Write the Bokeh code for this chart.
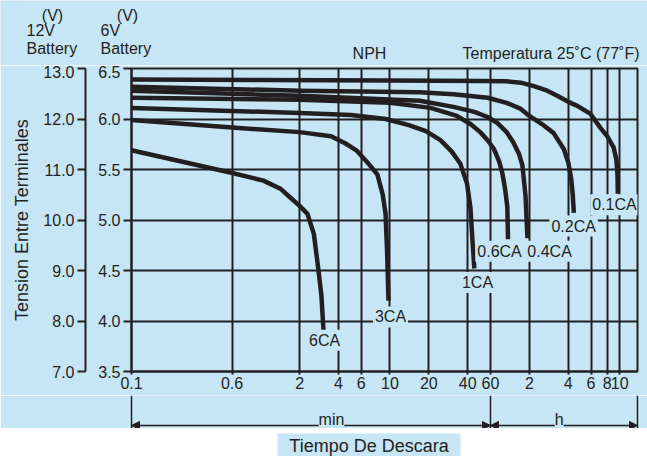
import math
from bokeh.plotting import figure
from bokeh.layouts import column
from bokeh.models import (Range1d, LinearAxis, FixedTicker, NumeralTickFormatter, Label,
                          Arrow, NormalHead, BoxAnnotation)
from bokeh.embed import file_html
from bokeh.resources import INLINE

BG = "#c6e6f6"
INK = "#231f20"
FONT = "Liberation Sans"

# ---------------- data ----------------
X_START, X_END = 0.1, 824          # discharge time axis (minutes), log scale
x_ticks = [0.1, 0.6, 2, 4, 6, 10, 20, 40, 60, 120, 240, 360, 480, 600]
x_tick_labels = ["0.1", "0.6", "2", "4", "6", "10", "20", "40", "60", "2", "4", "6", "8", "10"]
unit_breaks = [X_START, 60, X_END]   # min | h
y6_ticks = [3.5, 4.0, 4.5, 5.0, 5.5, 6.0, 6.5]
y12_ticks = [7, 8, 9, 10, 11, 12, 13]

# terminal voltage (6V battery scale) vs. discharge time (min)
t_01 = [0.1, 1, 10, 50, 80, 103, 130, 165, 197, 240, 282, 357, 427, 480, 538, 565, 577, 580]
v_01 = [6.39, 6.385, 6.38, 6.377, 6.373, 6.36, 6.325, 6.28, 6.23, 6.17, 6.13, 6.05, 5.91, 5.83, 5.72, 5.6, 5.45, 5.26]
t_02 = [0.1, 2, 17, 31, 57, 80, 103, 120, 150, 185, 222, 240, 252, 260, 265]
v_02 = [6.32, 6.28, 6.265, 6.245, 6.21, 6.16, 6.10, 6.03, 5.95, 5.86, 5.70, 5.57, 5.42, 5.25, 5.07]
t_04 = [0.1, 2, 17, 31, 45, 57, 68, 80, 90, 100, 106, 112, 116]
v_04 = [6.28, 6.23, 6.18, 6.12, 6.07, 6.02, 5.96, 5.87, 5.77, 5.65, 5.54, 5.24, 4.82]
t_06 = [0.1, 2, 10, 20.6, 33, 42, 50, 57, 64, 70, 74, 78, 81, 82]
v_06 = [6.21, 6.19, 6.16, 6.11, 6.03, 5.95, 5.87, 5.79, 5.70, 5.58, 5.47, 5.30, 5.13, 4.81]
t_1 = [0.1, 2, 5, 9.3, 14, 19, 24.6, 30, 35, 39.5, 42, 43.5, 45]
v_1 = [6.11, 6.06, 6.04, 6.0, 5.94, 5.88, 5.79, 5.68, 5.56, 5.36, 5.12, 4.80, 4.52]
t_3 = [0.1, 0.6, 2, 3.5, 4.5, 5.5, 6.7, 8.0, 8.8, 9.25, 9.5, 9.75]
v_3 = [5.99, 5.915, 5.87, 5.83, 5.76, 5.69, 5.57, 5.45, 5.25, 5.06, 4.70, 4.20]
t_6 = [0.1, 0.58, 1.05, 1.42, 1.7, 2.0, 2.3, 2.58, 2.8, 2.95, 3.06]
v_6 = [5.69, 5.47, 5.39, 5.31, 5.22, 5.14, 5.06, 4.86, 4.50, 4.25, 3.91]

curve_names = ["0.1CA", "0.2CA", "0.4CA", "0.6CA", "1CA", "3CA", "6CA"]
curve_t = [t_01, t_02, t_04, t_06, t_1, t_3, t_6]
curve_v = [v_01, v_02, v_04, v_06, v_1, v_3, v_6]
label_t = [547, 264, 172, 70.5, 47.6, 10.1, 3.12]
label_v = [5.15, 4.94, 4.69, 4.69, 4.38, 4.04, 3.81]

# ---------------- layout sizes ----------------
W = 647
BL, BR = 131, 10
FRAME_W = W - BL - BR
H_HEAD, H_MAIN, H_UNIT, H_TITLE = 65, 330, 33, 28
BASE_SHIFT = 5   # alphabetic-baseline labels render slightly low


def styled_axis(ax, size="16px"):
    ax.axis_line_color = INK
    ax.axis_line_width = 2
    ax.major_tick_line_color = INK
    ax.major_tick_line_width = 2
    ax.major_tick_in = 0
    ax.minor_tick_line_color = None
    ax.major_label_text_font = FONT
    ax.major_label_text_font_size = size
    ax.major_label_text_color = INK


# ---------------- header ----------------
ph = figure(width=W, height=H_HEAD, x_range=Range1d(0, W), y_range=Range1d(H_HEAD, 0),
            x_axis_location=None, y_axis_location=None, min_border=0, frame_align=False,
            output_backend="svg", toolbar_location=None)
ph.grid.visible = False
ph.outline_line_color = None
ph.background_fill_color = BG
ph.border_fill_color = BG
for txt, x, y, al in [("(V)", 52, 19.5, "center"), ("12V", 26, 35, "left"), ("Battery", 26, 52.5, "left"),
                      ("(V)", 127, 19.5, "center"), ("6V", 100, 35, "left"), ("Battery", 100, 52.5, "left"),
                      ("NPH", 369, 58, "center"), ("Temperatura 25˚C (77˚F)", 639, 58, "right")]:
    ph.add_layout(Label(x=x, y=y - BASE_SHIFT, text=txt, text_align=al, text_baseline="alphabetic",
                        text_font=FONT, text_font_size="16px", text_color=INK))

# ---------------- main chart ----------------
p = figure(width=W, height=H_MAIN, x_axis_type="log",
           x_range=Range1d(X_START, X_END), y_range=Range1d(3.5, 6.5),
           min_border_left=BL, min_border_right=BR, min_border_top=3, min_border_bottom=24,
           frame_align=False, output_backend="svg", toolbar_location=None)
p.background_fill_color = BG
p.border_fill_color = BG
p.outline_line_color = INK
p.outline_line_width = 2

xt = FixedTicker(ticks=x_ticks)
xax = p.xaxis[0]
xax.ticker = xt
xax.major_label_overrides = dict(zip(x_ticks, x_tick_labels))
styled_axis(xax)
xax.major_tick_out = 3
xax.major_label_standoff = 2

yt = FixedTicker(ticks=y6_ticks)
yax = p.yaxis[0]
yax.ticker = yt
yax.formatter = NumeralTickFormatter(format="0.0")
styled_axis(yax)
yax.major_tick_out = 8
yax.major_label_standoff = 3

p.xgrid[0].ticker = xt
p.ygrid[0].ticker = yt
p.grid.grid_line_color = INK
p.grid.grid_line_width = 2
p.grid.grid_line_alpha = 1

# blank axis (one invisible tick, empty label) that only reserves a gap between the two scales
spacer = LinearAxis(ticker=FixedTicker(ticks=[y6_ticks[3]]), axis_line_color=BG, major_tick_out=10,
                    major_tick_in=0, major_tick_line_color=BG, major_label_standoff=0,
                    minor_tick_line_color=None, major_label_overrides={y6_ticks[3]: ""})
p.add_layout(spacer, "left")

p.extra_y_ranges = {"v12": Range1d(7, 13)}
ax12 = LinearAxis(y_range_name="v12", ticker=FixedTicker(ticks=y12_ticks),
                  formatter=NumeralTickFormatter(format="0.0"),
                  axis_label="Tension Entre Terminales")
styled_axis(ax12)
ax12.major_tick_out = 8
ax12.major_label_standoff = 3
ax12.axis_label_text_font = FONT
ax12.axis_label_text_font_size = "18px"
ax12.axis_label_text_font_style = "normal"
ax12.axis_label_text_color = INK
ax12.axis_label_standoff = 8
p.add_layout(ax12, "left")

for t, v in zip(curve_t, curve_v):
    p.line(t, v, line_width=4.5, line_color=INK, line_join="round")

for name, lt, lv in zip(curve_names, label_t, label_v):
    p.add_layout(Label(x=lt, y=lv, text=name, text_align="center", text_baseline="middle",
                       text_font=FONT, text_font_size="16px", text_color=INK,
                       background_fill_color=BG, padding=2))

# ---------------- unit brackets (min / h) ----------------
k = FRAME_W / math.log10(X_END / X_START)
pad = 2
p2 = figure(width=W, height=H_UNIT, x_axis_type="log",
            x_range=Range1d(X_START / 10 ** (pad / k), X_END * 10 ** (pad / k)),
            y_range=Range1d(H_UNIT, 0), x_axis_location=None, y_axis_location=None,
            min_border_left=BL - pad, min_border_right=BR - pad, min_border_top=0, min_border_bottom=0,
            frame_align=False, output_backend="svg", toolbar_location=None)
p2.grid.visible = False
p2.outline_line_color = None
p2.background_fill_color = BG
p2.border_fill_color = BG
p2.segment(x0=unit_breaks, y0=[0] * 3, x1=unit_breaks, y1=[H_UNIT] * 3, line_width=1.5, line_color=INK)
for a, b in [(unit_breaks[0], unit_breaks[1]), (unit_breaks[1], unit_breaks[2])]:
    p2.add_layout(Arrow(start=NormalHead(size=8, fill_color=INK, line_color=INK),
                        end=NormalHead(size=8, fill_color=INK, line_color=INK),
                        x_start=a, x_end=b, y_start=30, y_end=30, line_width=1.5, line_color=INK))
for txt, x in [("min", 3.53), ("h", 204)]:
    p2.add_layout(Label(x=x, y=29 - BASE_SHIFT, text=txt, text_align="center", text_baseline="alphabetic",
                        text_font=FONT, text_font_size="16px", text_color=INK,
                        background_fill_color=BG, padding=0))

# ---------------- x title band ----------------
p3 = figure(width=W, height=H_TITLE, x_range=Range1d(0, W), y_range=Range1d(H_TITLE, 0),
            x_axis_location=None, y_axis_location=None, min_border=0, frame_align=False,
            output_backend="svg", toolbar_location=None)
p3.grid.visible = False
p3.outline_line_color = None
p3.background_fill_color = "white"
p3.border_fill_color = "white"
p3.add_layout(BoxAnnotation(left=277, right=460, top=5, bottom=H_TITLE, fill_color=BG, fill_alpha=1,
                            line_color=None))
p3.add_layout(Label(x=368.5, y=22 - BASE_SHIFT, text="Tiempo De Descara", text_align="center",
                    text_baseline="alphabetic", text_font=FONT, text_font_size="18px", text_color=INK))

layout = column(ph, p, p2, p3, spacing=0)
open("out.html", "w").write(file_html(layout, INLINE))
